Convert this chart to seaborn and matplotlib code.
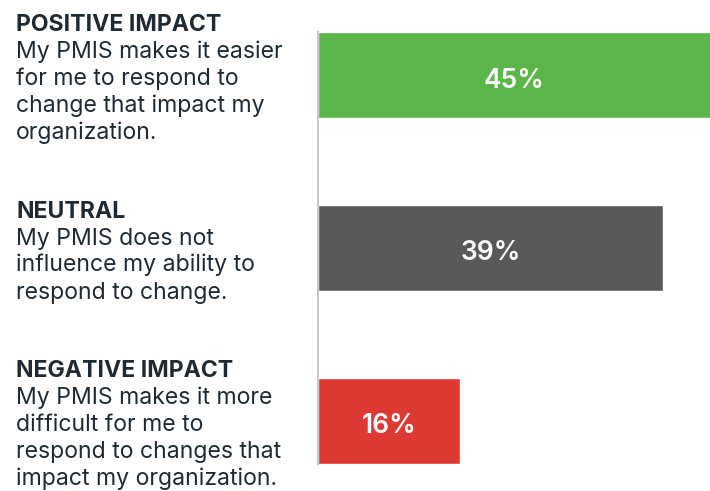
import matplotlib.pyplot as plt
import pandas as pd
import seaborn as sns

categories = ["POSITIVE IMPACT", "NEUTRAL", "NEGATIVE IMPACT"]
values = [45, 39, 16]
descriptions = [
    ["My PMIS makes it easier", "for me to respond to", "change that impact my", "organization."],
    ["My PMIS does not", "influence my ability to", "respond to change."],
    ["My PMIS makes it more", "difficult for me to", "respond to changes that", "impact my organization."],
]
colors = ["#5bb548", "#595959", "#dd3a33"]

sns.set_style("white")
plt.rcParams["font.family"] = ["Inter", "DejaVu Sans"]

df = pd.DataFrame({"category": categories, "value": values})

fig = plt.figure(figsize=(7.10, 4.91), dpi=100)
ax = fig.add_axes([318 / 710, 27 / 491, 392 / 710, 432 / 491])

sns.barplot(data=df, x="value", y="category", hue="category", palette=colors,
            width=0.5, legend=False, ax=ax, saturation=1)

xmax = 44.3
ax.set_xlim(0, xmax)
ax.set_ylim(2.25, -0.25)
ax.set_xlabel("")
ax.set_ylabel("")
ax.set_xticks([])
ax.set_yticks([])
for side in ["top", "right", "bottom"]:
    ax.spines[side].set_visible(False)
ax.spines["left"].set_color("#c8c8c8")
ax.spines["left"].set_linewidth(1.5)

text_color = "#1f2a33"
line_px = 27
for i, (cat, desc, val) in enumerate(zip(categories, descriptions, values)):
    n = len(desc)
    lines = [cat] + desc
    for k, line in enumerate(lines):
        # cap-centre offset below the bar centre, then down to the baseline
        down = -(n / 2) * line_px + k * line_px + 2.5 + 7.5
        ax.annotate(line, xy=(16 / 710, i), xycoords=("figure fraction", "data"),
                    xytext=(0, -down), textcoords="offset pixels",
                    ha="left", va="baseline", fontsize=16.6,
                    fontweight="bold" if k == 0 else "normal",
                    color=text_color, annotation_clip=False)
    ax.annotate(f"{val}%", xy=(min(val, xmax) / 2, i), xycoords="data",
                xytext=(0, -12.5), textcoords="offset pixels",
                ha="center", va="baseline", fontsize=19,
                fontweight="semibold", color="white")

fig.savefig("out.png", dpi=100)
